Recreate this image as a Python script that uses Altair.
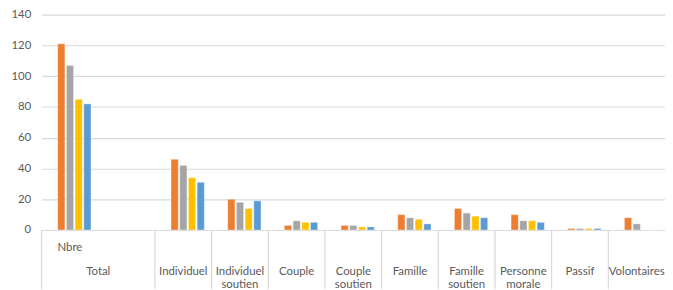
import altair as alt
import pandas as pd

# ---- data ----
categories = ["Total", "Individuel", "Individuel soutien", "Couple", "Couple soutien",
              "Famille", "Famille soutien", "Personne morale", "Passif", "Volontaires"]
cat_labels = ["Total", "Individuel", "Individuel\nsoutien", "Couple", "Couple\nsoutien",
              "Famille", "Famille\nsoutien", "Personne\nmorale", "Passif", "Volontaires"]
sub_label = "Nbre"
series = ["Série 1", "Série 2", "Série 3", "Série 4"]
s1 = [121, 46, 20, 3, 3, 10, 14, 10, 1, 8]
s2 = [107, 42, 18, 6, 3, 8, 11, 6, 1, 4]
s3 = [85, 34, 14, 5, 2, 7, 9, 6, 1, 0]
s4 = [82, 31, 19, 5, 2, 4, 8, 5, 1, 0]
colors = ["#ED7D31", "#A5A5A5", "#FFC000", "#5B9BD5"]
y_ticks = [0, 20, 40, 60, 80, 100, 120, 140]

FONT = "Lato"
FS = 11.5
TXT = "#595959"
GRID = "#D9D9D9"
Y_SUB = 236.5
Y_CAT = 261

# slots of the category axis: Total has two sub-slots (Nbre + empty)
slot_domain = ["Nbre", "Total_vide"] + categories[1:]
cat_slot = ["Nbre"] + categories[1:]

rows = []
for vals, s in zip([s1, s2, s3, s4], series):
    for slot, v in zip(cat_slot, vals):
        rows.append({"slot": slot, "serie": s, "value": v})
df = pd.DataFrame(rows)

xscale = alt.Scale(domain=slot_domain, paddingInner=0, paddingOuter=0)

bars = alt.Chart(df).mark_bar(stroke="white", strokeWidth=0.6, strokeOpacity=0.6).encode(
    x=alt.X("slot:N", scale=xscale, axis=None, sort=slot_domain),
    xOffset=alt.XOffset("serie:N", sort=series,
                        scale=alt.Scale(domain=series, range=[16.3, 50],
                                        paddingInner=0.17, paddingOuter=0)),
    y=alt.Y("value:Q", scale=alt.Scale(domain=[0, 140], nice=False),
            axis=alt.Axis(values=y_ticks, title=None, grid=True, gridColor=GRID,
                          gridWidth=1.2, domain=False, ticks=False, labelPadding=11,
                          labelColor=TXT, labelFont=FONT, labelFontSize=FS)),
    color=alt.Color("serie:N", scale=alt.Scale(domain=series, range=colors), legend=None),
)

# boundary lines of the category table
bound_df = pd.DataFrame({"slot": cat_slot})
rules = alt.Chart(bound_df).mark_rule(color=GRID, strokeWidth=1.2).encode(
    x=alt.X("slot:N", scale=xscale, bandPosition=0, sort=slot_domain),
    y=alt.value(218),
    y2=alt.value(278),
)

# sub level label
sub_df = pd.DataFrame({"slot": ["Nbre"], "label": [sub_label]})
sub_text = alt.Chart(sub_df).mark_text(font=FONT, fontSize=FS, color=TXT,
                                       baseline="middle", align="center").encode(
    x=alt.X("slot:N", scale=xscale, sort=slot_domain),
    y=alt.value(Y_SUB),
    text="label:N",
)

# Total label (centered over its two sub slots)
tot_df = pd.DataFrame({"slot": ["Total_vide"], "label": [cat_labels[0]]})
tot_text = alt.Chart(tot_df).mark_text(font=FONT, fontSize=FS, color=TXT,
                                       baseline="middle", align="center").encode(
    x=alt.X("slot:N", scale=xscale, bandPosition=0, sort=slot_domain),
    y=alt.value(Y_CAT),
    text="label:N",
)

cat_df = pd.DataFrame({"slot": categories[1:], "label": cat_labels[1:]})
cat_text = alt.Chart(cat_df).mark_text(font=FONT, fontSize=FS, color=TXT,
                                       baseline="middle", align="center",
                                       lineBreak="\n", lineHeight=13).encode(
    x=alt.X("slot:N", scale=xscale, sort=slot_domain),
    y=alt.value(Y_CAT),
    text="label:N",
)

chart = alt.layer(bars, rules, sub_text, tot_text, cat_text).properties(
    width=631, height=218,
    autosize=alt.AutoSizeParams(type="none"),
    padding={"left": 34, "top": 5, "right": 0, "bottom": 59},
).configure_view(stroke=None)

chart.save("out.html", embed_options={"renderer": "svg", "actions": False})
